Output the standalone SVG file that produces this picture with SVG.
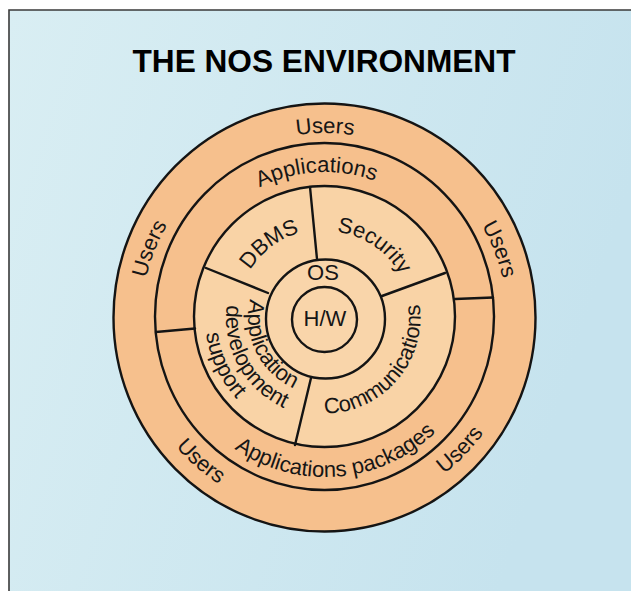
<svg xmlns="http://www.w3.org/2000/svg" width="631" height="591" viewBox="0 0 631 591">
<style>
  .ring { stroke: #141414; stroke-width: 2.4; }
  .outer { fill: #f6c08d; }
  .inner { fill: #f9d3a6; }
  .core { fill: #f9d5aa; }
  .div { stroke: #141414; stroke-width: 2.4; fill: none; stroke-linecap: round; }
  .lbl { font-family: "Liberation Sans", Arial, sans-serif; font-size: 22px; fill: #161616; }
  .title { font-family: "Liberation Sans", Arial, sans-serif; font-size: 31px; font-weight: bold; fill: #000; }
</style>
<defs>
  <linearGradient id="bg" x1="0" y1="0" x2="1" y2="0.3">
    <stop offset="0" stop-color="#d9eef3"/>
    <stop offset="1" stop-color="#c6e3ee"/>
  </linearGradient>
  <path id="pUsersTop" d="M140,318 A185,185 0 0 1 510,318"/>
  <path id="pApps" d="M179.24,326.4 A146,146 0 0 1 470.76,309.6"/>
  <path id="pUsersLeft" d="M256.9,490 A185,185 0 0 1 393.1,146"/>
  <path id="pUsersRight" d="M257.2,145.9 A185,185 0 0 1 392.8,490.1"/>
  <path id="pUsersBL" d="M176.1,189 A197,197 0 0 0 473.9,447"/>
  <path id="pUsersBR" d="M188.1,458.3 A196,196 0 0 0 461.9,177.7"/>
  <path id="pAppPk" d="M166.53,331.03 A159,159 0 0 0 483.47,304.97"/>
  <path id="pDBMS" d="M253.92,371.56 A89,89 0 0 1 396.08,264.44"/>
  <path id="pSec" d="M252.87,269.35 A87,87 0 0 1 397.13,366.65"/>
  <path id="pAD1" d="M291.25,248.79 A77,77 0 0 0 358.75,387.21"/>
  <path id="pAD2" d="M277,231.41 A99,99 0 0 0 373,404.59"/>
  <path id="pAD3" d="M273.87,208.34 A121,121 0 0 0 376.13,427.66"/>
  <path id="pComm" d="M262.02,390.45 A96,96 0 0 0 387.98,245.55"/>
</defs>

<rect x="0" y="0" width="631" height="591" fill="#ffffff"/>
<rect x="9" y="10" width="622" height="581" fill="url(#bg)"/>
<path d="M9,591 V10 H631" fill="none" stroke="#3a3a3a" stroke-width="1.6"/>

<text class="title" x="324" y="72" text-anchor="middle" textLength="383" lengthAdjust="spacingAndGlyphs">THE NOS ENVIRONMENT</text>

<g id="users-ring">
  <ellipse class="ring outer" cx="324.5" cy="317.5" rx="211" ry="214"/>
  <text class="lbl"><textPath href="#pUsersTop" startOffset="50%" text-anchor="middle">Users</textPath></text>
  <text class="lbl"><textPath href="#pUsersLeft" startOffset="50%" text-anchor="middle">Users</textPath></text>
  <text class="lbl"><textPath href="#pUsersRight" startOffset="50%" text-anchor="middle">Users</textPath></text>
  <text class="lbl"><textPath href="#pUsersBL" startOffset="50%" text-anchor="middle">Users</textPath></text>
  <text class="lbl"><textPath href="#pUsersBR" startOffset="50%" text-anchor="middle">Users</textPath></text>
</g>

<g id="applications-ring">
  <ellipse class="ring outer" cx="324.5" cy="316.5" rx="169.5" ry="173.5"/>
  <text class="lbl"><textPath href="#pApps" startOffset="50%" text-anchor="middle">Applications</textPath></text>
  <text class="lbl"><textPath href="#pAppPk" startOffset="50%" text-anchor="middle">Applications packages</textPath></text>
</g>

<g id="services-ring">
  <circle class="ring inner" cx="324.5" cy="316.5" r="130.5"/>
  <text class="lbl"><textPath href="#pDBMS" startOffset="50%" text-anchor="middle">DBMS</textPath></text>
  <text class="lbl"><textPath href="#pSec" startOffset="50%" text-anchor="middle">Security</textPath></text>
  <text class="lbl"><textPath href="#pAD1" startOffset="50%" text-anchor="middle">Application</textPath><textPath href="#pAD2" startOffset="50%" text-anchor="middle">development</textPath><textPath href="#pAD3" startOffset="50%" text-anchor="middle">support</textPath></text>
  <text class="lbl"><textPath href="#pComm" startOffset="50%" text-anchor="middle">Communications</textPath></text>
</g>

<g id="dividers">
  <line class="div" x1="156" y1="332" x2="195" y2="328.5"/>
  <line class="div" x1="455" y1="299" x2="493" y2="297.5"/>
  <line class="div" x1="310" y1="187" x2="317" y2="259"/>
  <line class="div" x1="206" y1="268" x2="268" y2="293"/>
  <line class="div" x1="445" y1="273" x2="382" y2="296"/>
  <line class="div" x1="311" y1="378" x2="295" y2="445"/>
</g>

<g id="os">
  <circle class="ring core" cx="325.5" cy="319" r="59.5"/>
  <text class="lbl" x="323" y="280" text-anchor="middle">OS</text>
</g>

<g id="hw">
  <circle class="ring core" cx="324.5" cy="319.5" r="32.5"/>
  <text class="lbl" x="325" y="326" text-anchor="middle">H/W</text>
</g>
</svg>
